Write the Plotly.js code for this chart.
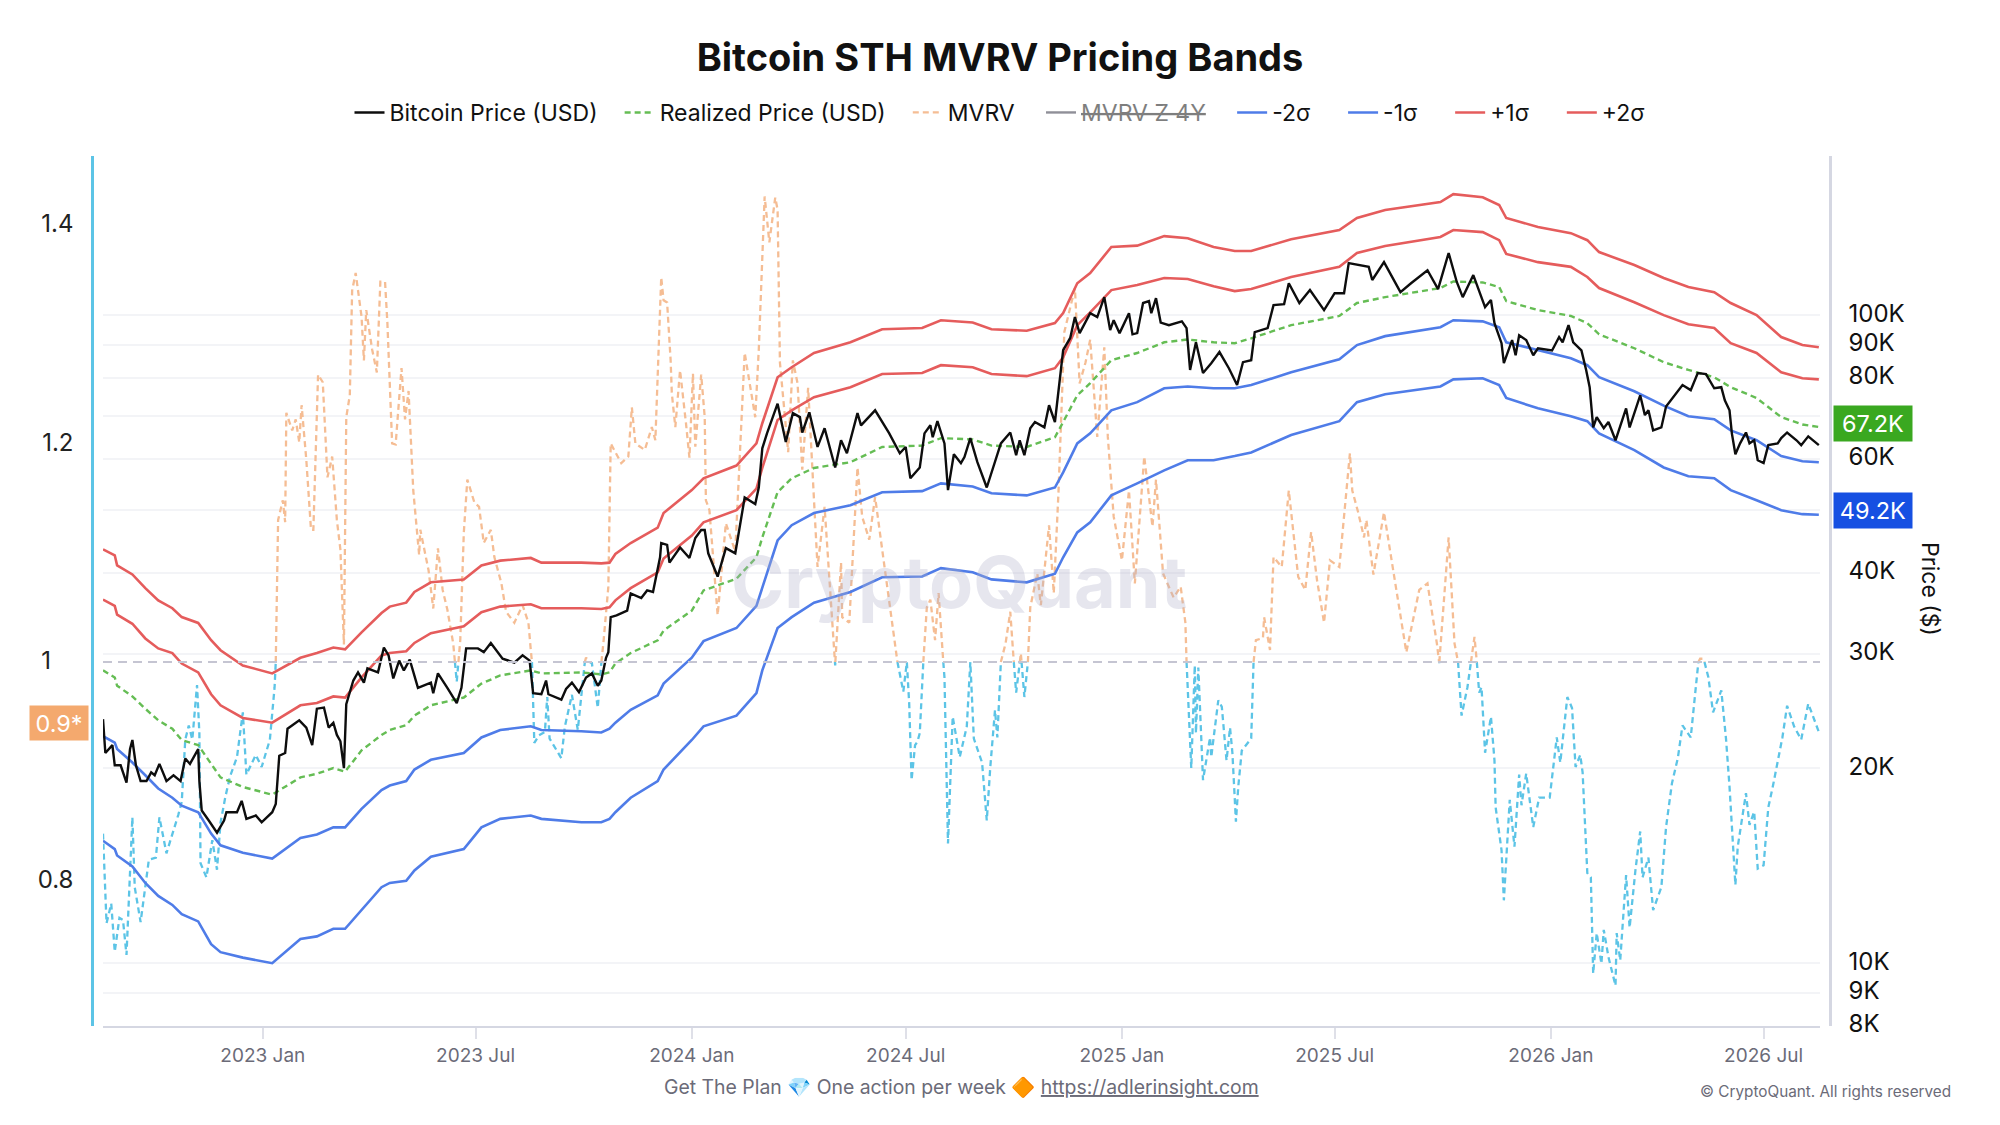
<!DOCTYPE html>
<html>
<head>
<meta charset="utf-8">
<title>Bitcoin STH MVRV Pricing Bands</title>
<script src="https://cdn.plot.ly/plotly-3.0.1.min.js"></script>
<style>
  html, body { margin: 0; padding: 0; background: #fff; }
  #chart { width: 2000px; height: 1125px; }
</style>
</head>
<body>
<div id="chart"></div>
<script>
// All x values are days counted from 2023-01-01, prices are in $ thousands
const bandDays = [
  -136,-126,-124,-111,-100,-89,-77,-69,-55,-44,
  -36,-17,8,32,46,60,70,84,101,108,
  122,129,143,171,186,202,228,237,271,288,
  295,300,313,336,341,365,375,403,420,425,
  438,450,469,500,527,561,577,604,620,650,
  674,681,693,704,722,744,767,787,809,827,
  841,875,916,931,955,1002,1013,1038,1052,1058,
  1085,1113,1127,1137,1167,1192,1213,1235,1249,1271,
  1292,1310,1324
];
const plus2Sigma = [
  43.5,42.6,41.1,39.8,37.9,36.3,35.3,34.2,33.5,31.5,
  30.4,28.8,28.0,29.6,30.1,30.7,30.5,32.4,34.7,35.5,
  36.0,37.4,38.7,39.1,41.1,41.8,42.2,41.5,41.5,41.4,
  41.5,42.8,44.5,47.0,49.5,53.7,56.0,58.6,63.4,68.1,
  80.2,83.1,87.4,90.8,95.1,95.5,98.2,97.4,95.1,94.6,
  97.2,100.7,112.0,116.1,127.4,128.0,132.4,131.4,127.4,125.6,
  125.6,130.9,135.3,141.2,145.3,149.4,153.7,152.0,147.9,141.2,
  136.8,133.8,130.5,125.1,119.5,114.1,110.5,108.5,104.4,100,
  92.5,89.9,89.2
];
const plus1Sigma = [
  36.4,35.6,34.5,33.4,31.7,30.6,30.1,29.0,28.1,26.0,
  25.0,23.9,23.5,25.0,25.2,25.8,25.7,27.6,29.85,30.1,
  30.3,31.2,32.3,33.1,34.8,35.5,35.8,35.3,35.3,35.2,
  35.4,36.3,37.9,40.1,42.1,45.7,47.9,50.0,54.0,58.1,
  68.9,71.3,74.7,77.4,81.1,81.4,83.7,83.1,81.1,80.5,
  82.8,86.1,96.5,101,109.3,111.3,114.1,113.7,110.8,108.9,
  109.7,114.5,118.7,124.7,127.8,132,135.3,134.3,130.5,124.3,
  120.7,118.7,114.5,110.1,104.7,100,96.8,95.5,90.5,87.4,
  81.6,79.9,79.6
];
const realizedPrice = [
  28.3,27.6,26.8,25.8,24.7,23.7,23.0,22.1,21.7,20.3,
  19.35,18.7,18.2,19.35,19.6,20.0,19.75,21.3,22.5,22.9,
  23.3,24.1,25.0,25.7,27.0,27.8,28.3,28.0,28.1,27.9,
  28.1,29.0,30.1,31.5,32.6,35.0,37.6,39.2,42.3,45.4,
  53.3,56.0,58.1,59.3,62.6,62.9,64.6,64.3,62.9,62.6,
  64.8,68.4,75.2,78.5,85.2,87.4,90.8,91.7,90.8,90.5,
  92.1,96.5,99.7,104.4,106.6,110.1,112.7,112.3,110.5,105.1,
  101.8,99.7,97.2,93.4,88.9,84.6,82.3,80.2,77.4,74.5,
  69.6,67.8,67.2
];
const minus1Sigma = [
  22.4,21.9,21.4,20.4,19.5,18.6,18.0,17.5,17.1,15.85,
  15.2,14.8,14.5,15.6,15.8,16.2,16.2,17.3,18.5,18.8,
  19.1,19.9,20.6,21.1,22.3,22.9,23.2,22.9,22.8,22.7,
  23.0,23.5,24.6,25.9,27.0,29.6,31.4,32.9,35.6,38.0,
  44.9,47.4,49.5,50.9,53.3,53.5,55.0,54.4,53.1,52.7,
  54.2,57.2,63.4,65.7,71.3,73.4,77.1,77.6,77.1,77.1,
  78.0,81.6,85.5,89.9,92.8,95.8,98.2,97.8,95.8,90.8,
  88.2,85.8,83.7,80.2,76.3,72.5,69.8,69.1,66.4,64.1,
  60.6,59.5,59.3
];
const minus2Sigma = [
  15.45,15.0,14.66,14.1,13.3,12.7,12.3,11.9,11.6,10.7,
  10.4,10.2,10.0,10.9,11.0,11.3,11.3,12.1,13.1,13.3,
  13.4,13.9,14.6,15.0,16.2,16.7,16.9,16.7,16.5,16.5,
  16.7,17.1,18.0,19.1,19.9,22.1,23.2,24.1,26.1,28.3,
  32.9,34.2,36.0,37.4,39.4,39.5,40.7,40.1,39.1,38.7,
  39.9,42.3,46.2,47.9,52.7,55.0,57.6,59.7,59.7,60.6,
  61.4,65.3,68.6,73.4,75.5,77.6,79.6,79.9,78.0,74.5,
  71.8,69.8,68.6,65.7,61.9,58.2,56.4,56.0,53.7,51.8,
  50.0,49.3,49.2
];

const priceDays = [
  -136,-134,-128,-126,-121,-116,-113,-111,-108,-104,
  -99,-95,-92,-88,-82,-76,-70,-66,-62,-55,
  -54,-52,-46,-39,-33,-31,-22,-18,-14,-6,
  -1,8,11,14,19,21,31,37,42,46,
  52,56,60,63,66,69,71,77,81,86,
  89,98,103,107,111,116,120,125,132,143,
  145,149,157,165,169,173,183,188,194,204,
  214,221,227,230,237,241,243,254,258,263,
  269,275,280,285,288,292,294,296,301,310,
  313,322,327,332,338,339,344,346,355,363,
  368,373,376,379,387,394,402,407,410,419,
  422,425,429,438,445,451,457,459,465,472,
  478,487,492,497,506,509,521,533,542,547,
  551,559,563,568,570,574,580,583,588,594,
  597,602,608,616,624,628,636,641,644,648,
  653,657,665,669,674,677,681,687,691,695,
  704,710,716,721,724,729,737,740,744,749,
  754,756,760,764,771,782,786,789,794,800,
  807,814,822,829,834,841,844,855,860,869,
  873,882,891,903,912,920,924,941,944,954,
  968,977,991,1000,1009,1016,1021,1030,1040,1045,
  1048,1054,1056,1063,1066,1069,1075,1081,1085,1097,
  1103,1106,1111,1115,1122,1126,1129,1132,1135,1141,
  1145,1151,1156,1160,1163,1172,1176,1179,1183,1190,
  1194,1203,1208,1215,1221,1228,1235,1241,1244,1248,
  1250,1253,1257,1262,1265,1269,1272,1277,1281,1289,
  1292,1297,1305,1309,1315,1324
];
const bitcoinPrice = [
  23.8,21.1,21.7,20.2,20.2,19.0,21.4,22.1,20.2,19.1,
  19.1,19.7,19.5,20.3,19.1,19.5,19.1,20.7,20.3,21.4,
  19.1,17.2,16.6,15.9,16.6,17.1,17.1,17.8,16.7,16.9,
  16.5,17.1,17.6,20.9,21.1,23.0,23.7,23.1,21.7,24.7,
  24.8,23.1,23.5,22.5,22.0,20.0,25.1,27.3,28.1,27.1,
  28.5,28.1,30.7,29.85,27.5,29.3,28.3,29.4,26.6,27.1,
  26.1,28.0,26.6,25.2,26.6,30.6,30.6,30.2,31.2,29.5,
  29.1,29.85,29.3,26.1,26.0,27.3,26.0,25.5,26.5,27.1,
  26.2,27.6,28.0,26.8,27.3,29.6,30.2,34.2,34.4,35.0,
  37.2,36.6,37.6,37.4,42.3,44.5,44.2,41.5,43.8,42.2,
  45.3,46.6,46.6,42.9,39.5,43.7,42.9,48.2,52.3,51.1,
  54.2,62.3,65.7,73.0,63.7,70.6,69.6,65.9,70.8,62.6,
  66.9,58.2,64.1,61.2,70.6,67.6,71.3,65.7,61.2,62.6,
  56.0,58.2,65.7,67.6,64.8,68.6,63.4,53.7,61.0,59.1,
  60.4,64.6,59.3,54.2,60.2,63.4,65.9,60.8,64.1,60.8,
  66.9,68.4,67.1,72.6,68.4,76.6,88.3,92.2,99.3,93.8,
  100.7,99.3,106.6,94.8,98.2,93.8,100.7,93.4,93.8,104.4,
  105.1,100.7,106.2,97.4,96.5,97.8,95.5,82.3,90.8,81.4,
  84.3,87.7,82.8,78.0,84.6,85.2,94.1,95.5,103.6,104.0,
  112.0,104.4,109.3,101.8,108.1,108.1,120.3,118.7,113.3,120.7,
  108.5,112.0,117.3,109.7,124.7,112.4,106.6,115.3,102.9,105.5,
  97.2,90.5,84.3,91.5,86.7,93.1,91.5,86.7,88.9,88.2,
  92.5,90.8,96.5,90.8,88.2,82.3,77.4,67.1,69.6,66.9,
  68.4,64.1,68.1,71.8,67.1,75.2,70.1,71.3,66.4,67.1,
  72.3,76.0,78.0,76.6,81.4,81.1,77.1,77.4,73.9,71.3,
  65.7,61.0,63.4,65.9,63.4,64.1,59.7,59.1,63.0,63.4,
  64.6,65.9,64.1,63.0,65.0,63.0
];

const mvrvDays = [
  -136,-133,-129,-126,-122,-119,-116,-113,-111,-109,
  -104,-97,-91,-88,-82,-72,-69,-66,-63,-60,
  -56,-54,-53,-48,-43,-39,-36,-32,-28,-22,
  -17,-14,-6,-1,6,10,11,13,17,19,
  20,25,28,31,33,37,41,43,47,51,
  55,59,63,66,69,71,74,76,79,84,
  86,88,93,97,100,104,106,110,113,118,
  121,124,128,133,134,141,145,149,153,157,
  162,165,168,171,174,180,184,188,194,197,
  203,207,214,221,226,228,229,231,235,240,
  242,244,254,257,263,268,274,275,278,280,
  285,288,290,294,296,305,311,314,317,325,
  331,334,339,341,344,347,348,351,355,360,
  363,366,368,373,376,377,380,387,394,402,
  410,419,422,427,431,436,438,440,447,451,
  455,459,464,469,472,478,487,492,493,499,
  506,510,516,521,527,535,540,545,548,550,
  552,555,557,559,562,565,568,572,575,579,
  580,583,587,593,599,602,605,612,616,619,
  623,625,628,632,636,639,641,645,648,651,
  653,659,662,669,673,677,682,691,695,700,
  704,710,716,719,724,731,737,742,750,757,
  760,766,775,781,785,786,790,793,794,796,
  800,806,807,813,816,820,823,825,828,830,
  833,841,843,845,851,852,857,860,867,873,
  881,887,892,897,903,908,916,925,927,932,
  937,939,945,954,959,965,972,973,984,991,
  999,1001,1009,1014,1017,1020,1025,1031,1033,1035,
  1037,1040,1045,1048,1049,1054,1056,1061,1065,1069,
  1071,1075,1081,1086,1095,1101,1104,1110,1114,1117,
  1121,1123,1127,1130,1132,1135,1139,1141,1145,1151,
  1152,1155,1160,1163,1168,1172,1174,1179,1183,1190,
  1194,1199,1204,1208,1215,1221,1223,1226,1230,1234,
  1241,1245,1248,1253,1255,1262,1265,1269,1272,1277,
  1281,1285,1289,1293,1297,1303,1309,1315,1324
];
const mvrvValues = [
  0.843,0.761,0.779,0.735,0.766,0.764,0.732,0.81,0.858,0.794,
  0.762,0.819,0.821,0.858,0.825,0.86,0.872,0.929,0.942,0.929,
  0.979,0.935,0.816,0.803,0.837,0.81,0.853,0.876,0.895,0.913,
  0.954,0.897,0.915,0.904,0.929,0.977,1.0,1.13,1.148,1.128,
  1.228,1.212,1.222,1.201,1.235,1.185,1.121,1.121,1.263,1.256,
  1.169,1.188,1.13,1.103,1.016,1.224,1.244,1.34,1.356,1.316,
  1.276,1.322,1.286,1.265,1.348,1.348,1.31,1.2,1.199,1.269,
  1.222,1.248,1.157,1.098,1.121,1.084,1.049,1.104,1.066,1.048,
  1.017,0.982,1.02,1.118,1.167,1.146,1.142,1.109,1.121,1.096,
  1.072,1.046,1.036,1.052,1.036,1.011,1.0,0.926,0.933,0.936,
  0.968,0.93,0.912,0.941,0.97,0.938,1.0,1.004,1.0,0.999,
  0.958,0.999,1.02,1.069,1.2,1.182,1.188,1.233,1.2,1.194,
  1.215,1.203,1.352,1.331,1.329,1.276,1.246,1.215,1.267,1.219,
  1.187,1.264,1.197,1.263,1.224,1.148,1.139,1.043,1.127,1.101,
  1.283,1.224,1.286,1.426,1.384,1.425,1.414,1.274,1.192,1.276,
  1.255,1.176,1.251,1.148,1.087,1.142,0.997,1.091,1.041,1.036,
  1.178,1.133,1.112,1.151,1.103,1.041,1.0,0.973,1.0,0.962,
  0.892,0.924,0.927,0.935,1.0,1.05,1.057,1.02,1.063,1.0,
  0.986,0.834,0.95,0.913,0.941,1.0,0.93,0.908,0.855,0.904,
  0.956,0.931,1.0,1.017,1.046,1.0,0.972,1.008,0.968,1.0,
  1.05,1.081,1.052,1.125,1.063,1.155,1.302,1.342,1.255,1.274,
  1.295,1.206,1.288,1.206,1.133,1.093,1.157,1.072,1.188,1.124,
  1.167,1.081,1.059,1.069,1.036,1.0,0.903,0.997,0.935,0.995,
  0.892,0.931,0.913,0.965,0.959,0.91,0.94,0.917,0.854,0.886,
  0.919,0.93,1.0,1.02,1.022,1.041,1.011,1.096,1.087,1.157,
  1.078,1.066,1.119,1.075,1.036,1.093,1.087,1.191,1.157,1.137,
  1.114,1.13,1.08,1.137,1.103,1.061,1.013,1.009,1.066,1.072,
  1.017,0.999,1.114,1.017,1.0,0.951,0.977,1.023,1.0,0.972,
  0.977,0.917,0.95,0.91,0.867,0.828,0.782,0.874,0.831,0.897,
  0.869,0.898,0.849,0.876,0.876,0.931,0.908,0.968,0.958,0.904,
  0.915,0.899,0.807,0.803,0.715,0.752,0.724,0.755,0.73,0.704,
  0.752,0.727,0.805,0.757,0.81,0.845,0.803,0.821,0.773,0.794,
  0.849,0.889,0.912,0.942,0.931,0.999,1.003,1.003,0.986,0.954,
  0.974,0.93,0.886,0.796,0.831,0.88,0.851,0.863,0.811,0.814,
  0.867,0.887,0.908,0.931,0.96,0.941,0.929,0.962,0.936
];
const mvrvBaseline = 1;

const xTickDates = ['2023-01-01','2023-07-01','2024-01-01','2024-07-01','2025-01-01','2025-07-01','2026-01-01','2026-07-01'];
const xTickLabels = ['2023 Jan','2023 Jul','2024 Jan','2024 Jul','2025 Jan','2025 Jul','2026 Jan','2026 Jul'];
const mvrvTicks = [0.8, 1, 1.2, 1.4];
// padded so the labels read left aligned like the original
const mvrvTickLabels = ['0.8', '1\u2008\u2007', '1.2', '1.4'];
// 50K and 70K only keep their grid lines, the value badges sit on those spots
const priceTicks = [8, 9, 10, 20, 30, 40, 50, 60, 70, 80, 90, 100];
const priceTickLabels = ['8K','9K','10K','20K','30K','40K','','60K','','80K','90K','100K'];

const FONT = 'Inter, "Noto Sans", sans-serif';
const DASH = '6px,4px';
// plotly has no gap setting for legend items
const GAP = '\u00a0\u00a0\u2009';
const GAP_MID = GAP + '\u2009';
const GAP_WIDE = GAP + '\u00a0\u2009';

const toDate = d => new Date(Date.UTC(2023, 0, 1) + d * 864e5).toISOString().slice(0, 19);

// MVRV changes colour where it crosses 1, so cut it in two there
function splitAtBaseline(days, values, base) {
    const above = { x: [], y: [] };
    const below = { x: [], y: [] };
    values.forEach((v, i) => {
        const prev = values[i - 1];
        if (i > 0 && (prev - base) * (v - base) < 0) {
            const cross = toDate(days[i - 1] + (base - prev) / (v - prev) * (days[i] - days[i - 1]));
            above.x.push(cross); above.y.push(base);
            below.x.push(cross); below.y.push(base);
        }
        above.x.push(toDate(days[i])); above.y.push(v >= base ? v : null);
        below.x.push(toDate(days[i])); below.y.push(v <= base ? v : null);
    });
    return { above, below };
}

const mvrv = splitAtBaseline(mvrvDays, mvrvValues, mvrvBaseline);
const bandX = bandDays.map(toDate);

const priceLine = (name, rank, x, y, color, width, dash) => ({
    name, x, y, legendrank: rank, yaxis: 'y2', type: 'scatter', mode: 'lines',
    line: { color, width, dash: dash || 'solid' }, hoverinfo: 'skip'
});

const traces = [
    { name: 'MVRV' + GAP_MID, x: mvrv.above.x, y: mvrv.above.y, legendrank: 3, type: 'scatter', mode: 'lines',
      line: { color: '#f5bd94', width: 2.3, dash: DASH } },
    { name: 'MVRV below 1', x: mvrv.below.x, y: mvrv.below.y, showlegend: false, type: 'scatter', mode: 'lines',
      line: { color: '#5cc4e6', width: 2.3, dash: DASH } },
    { name: '<span style="text-decoration:line-through;color:#000">MVRV Z 4Y</span>' + GAP_MID, x: [toDate(-136)], y: [null], legendrank: 4,
      visible: 'legendonly', type: 'scatter', mode: 'lines', line: { color: '#222233', width: 2.4 } },
    priceLine('Realized Price (USD)' + GAP, 2, bandX, realizedPrice, '#65bd54', 2.4, DASH),
    priceLine('-2σ' + GAP_WIDE, 5, bandX, minus2Sigma, '#4f7ce8', 2.6),
    priceLine('-1σ' + GAP_WIDE, 6, bandX, minus1Sigma, '#4f7ce8', 2.6),
    priceLine('+1σ' + GAP_WIDE, 7, bandX, plus1Sigma, '#e55c5c', 2.6),
    priceLine('+2σ', 8, bandX, plus2Sigma, '#e55c5c', 2.6),
    priceLine('Bitcoin Price (USD)' + GAP, 1, priceDays.map(toDate), bitcoinPrice, '#0d0d0d', 2.4)
];

const badge = (text, y, yref, x, color, w, h, shift) => ({
    text, x, y, xref: 'paper', yref, yshift: shift, showarrow: false, width: w, height: h,
    xanchor: 'center', yanchor: 'middle',
    bgcolor: color, font: { family: FONT, size: 23.5, color: '#fff' }, align: 'center', valign: 'middle'
});

const layout = {
    width: 2000,
    height: 1125,
    margin: { l: 92, r: 170, t: 156, b: 99 },
    paper_bgcolor: '#fff',
    plot_bgcolor: '#fff',
    font: { family: FONT, color: '#111' },
    showlegend: true,
    title: {
        text: '<b>Bitcoin STH MVRV Pricing Bands</b>',
        font: { family: FONT, size: 38, color: '#111' },
        x: 0.5, xref: 'container', xanchor: 'center',
        y: 0.949, yref: 'container', yanchor: 'middle'
    },
    legend: {
        orientation: 'h',
        x: 0.5, xref: 'container', xanchor: 'center',
        y: 0.9, yref: 'container', yanchor: 'middle',
        font: { family: FONT, size: 23, color: '#111' },
        itemwidth: 30,
        bgcolor: 'rgba(0,0,0,0)'
    },
    xaxis: {
        type: 'date',
        domain: [0.00633, 0.99425],
        range: [toDate(-136), toDate(1325)],
        tickmode: 'array',
        tickvals: xTickDates,
        ticktext: xTickLabels,
        ticks: 'outside',
        ticklen: 11,
        tickwidth: 1.5,
        tickcolor: '#dfe0e8',
        tickfont: { family: FONT, size: 19, color: '#6b6b78' },
        showgrid: false,
        zeroline: false,
        showline: true,
        linecolor: '#d5d7e2',
        linewidth: 2
    },
    yaxis: {
        anchor: 'free',
        position: 0,
        side: 'left',
        range: [0.667, 1.463],
        tickmode: 'array',
        tickvals: mvrvTicks,
        ticktext: mvrvTickLabels,
        ticks: '',
        ticklabelstandoff: 13,
        ticklabelshift: -1,
        tickfont: { family: FONT, size: 24, color: '#222' },
        showgrid: false,
        zeroline: false,
        showline: true,
        linecolor: '#5cc4e6',
        linewidth: 2.5
    },
    yaxis2: {
        type: 'log',
        overlaying: 'y',
        anchor: 'free',
        position: 1,
        side: 'right',
        range: [Math.log10(8), Math.log10(176)],
        tickmode: 'array',
        tickvals: priceTicks,
        ticktext: priceTickLabels,
        ticks: '',
        ticklabelstandoff: 12,
        ticklabelshift: -2,
        tickfont: { family: FONT, size: 24, color: '#111' },
        showgrid: true,
        gridcolor: '#f3f4f7',
        gridwidth: 1.5,
        zeroline: false,
        showline: true,
        linecolor: '#d5d7e2',
        linewidth: 2.5
    },
    shapes: [{
        type: 'line', xref: 'x', yref: 'y',
        x0: toDate(-136), x1: toDate(1325), y0: mvrvBaseline, y1: mvrvBaseline,
        line: { color: '#c5c5d2', width: 2, dash: '9px,6px' }
    }],
    annotations: [
        { text: '<b>CryptoQuant</b>', x: (959 - 92) / 1738, y: (1026 - 581) / 870, xref: 'paper', yref: 'paper',
          xanchor: 'center', yanchor: 'middle', showarrow: false,
          font: { family: FONT, size: 72, color: 'rgba(176,178,202,0.32)' } },
        badge('0.9*', 0.944, 'y', -0.019, '#f4a96e', 56, 32, 0),
        badge('67.2K', Math.log10(67.2), 'y2', 1.0247, '#3aa820', 76, 33, 3),
        badge('49.2K', Math.log10(49.2), 'y2', 1.0247, '#1650e2', 76, 33, 4),
        // plotly only turns an axis title sideways the other way, so this one is an annotation
        { text: 'Price ($)', x: (1930 - 92) / 1738, y: (1026 - 589) / 870, xref: 'paper', yref: 'paper',
          xanchor: 'center', yanchor: 'middle', showarrow: false, textangle: 90,
          font: { family: FONT, size: 23, color: '#111' } },
        { text: 'Get The Plan 💎 One action per week 🔶 <a href="https://adlerinsight.com"><span style="text-decoration:underline;color:#6b6b78">https://adlerinsight.com</span></a>',
          x: (961 - 92) / 1738, y: (1026 - 1087) / 870, xref: 'paper', yref: 'paper',
          xanchor: 'center', yanchor: 'middle', showarrow: false,
          font: { family: FONT, size: 19.4, color: '#6b6b78' } },
        { text: '© CryptoQuant. All rights reserved',
          x: (1953 - 92) / 1738, y: (1026 - 1091) / 870, xref: 'paper', yref: 'paper',
          xanchor: 'right', yanchor: 'middle', showarrow: false,
          font: { family: FONT, size: 15.3, color: '#6b6b78' } }
    ]
};

Plotly.newPlot('chart', traces, layout, { displayModeBar: false, responsive: false });
</script>
</body>
</html>
